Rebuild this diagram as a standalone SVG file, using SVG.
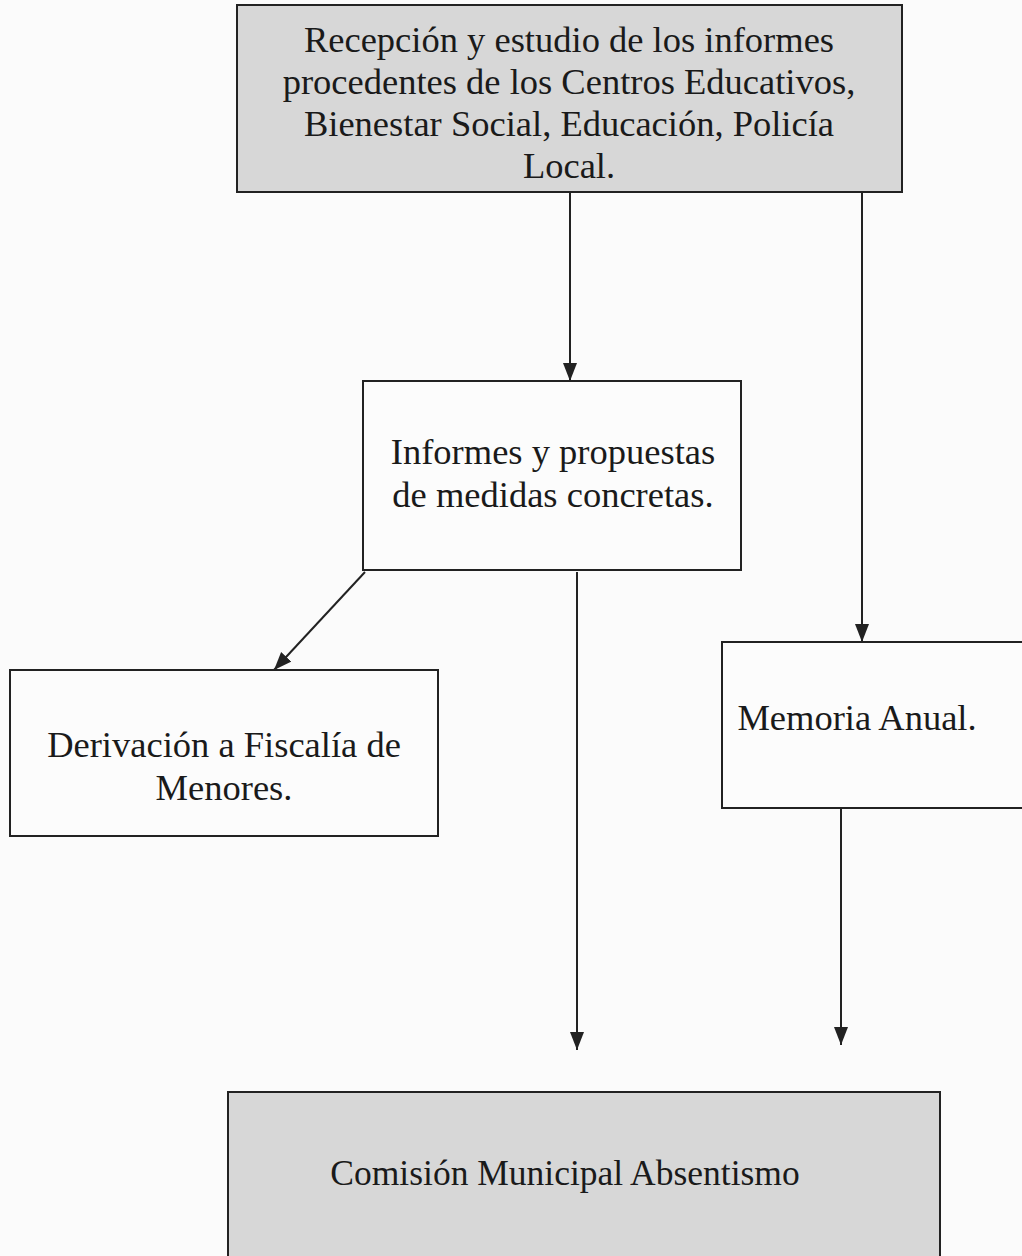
<svg xmlns="http://www.w3.org/2000/svg" width="1022" height="1256" viewBox="0 0 1022 1256">
<style>
.box{stroke:#222;stroke-width:2;}
.gray{fill:#d7d7d7;}
.white{fill:#fcfcfc;}
text{font-family:"Liberation Serif","Times New Roman",serif;font-size:36.5px;fill:#1a1a1a;text-anchor:middle;}
.conn{stroke:#222;stroke-width:2;fill:none;}
</style>
<defs>
<marker id="ah" markerWidth="18" markerHeight="16" refX="18" refY="7" orient="auto" markerUnits="userSpaceOnUse">
<path d="M0,0 L18,7 L0,14 Z" fill="#222"/>
</marker>
</defs>
<rect width="1022" height="1256" fill="#fbfbfb"/>
<g id="connectors">
<line class="conn" x1="570" y1="193" x2="570" y2="381" marker-end="url(#ah)"/>
<line class="conn" x1="862" y1="193" x2="862" y2="642" marker-end="url(#ah)"/>
<line class="conn" x1="365" y1="572" x2="274" y2="670" marker-end="url(#ah)"/>
<line class="conn" x1="577" y1="572" x2="577" y2="1050" marker-end="url(#ah)"/>
<line class="conn" x1="841" y1="808" x2="841" y2="1045" marker-end="url(#ah)"/>
</g>
<g id="n1">
<rect class="box gray" x="237" y="5" width="665" height="187"/>
<text x="569" y="52">Recepción y estudio de los informes</text>
<text x="569" y="94">procedentes de los Centros Educativos,</text>
<text x="569" y="136">Bienestar Social, Educación, Policía</text>
<text x="569" y="178">Local.</text>
</g>
<g id="n2">
<rect class="box white" x="363" y="381" width="378" height="189"/>
<text x="553" y="464">Informes y propuestas</text>
<text x="553" y="507">de medidas concretas.</text>
</g>
<g id="n3">
<rect class="box white" x="10" y="670" width="428" height="166"/>
<text x="224" y="757">Derivación a Fiscalía de</text>
<text x="224" y="800">Menores.</text>
</g>
<g id="n4">
<rect class="box white" x="722" y="642" width="310" height="166"/>
<text x="857" y="730">Memoria Anual.</text>
</g>
<g id="n5">
<rect class="box gray" x="228" y="1092" width="712" height="180"/>
<text x="565" y="1185" style="font-size:35.5px">Comisión Municipal Absentismo</text>
</g>
</svg>
